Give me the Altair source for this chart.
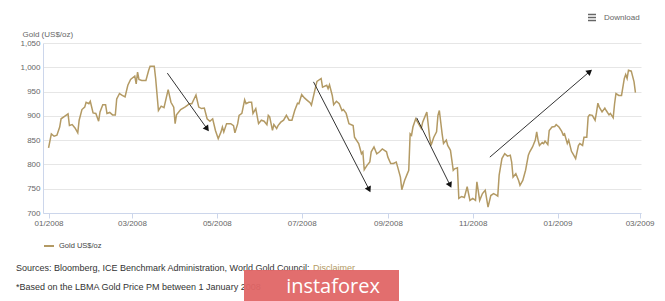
import altair as alt
import pandas as pd

# ---- data (days since 2008-01-01, US$/oz) ----
days = [0, 2, 4, 6, 8, 9, 12, 14, 15, 17, 19, 21, 22, 24, 26, 27, 29, 30, 32, 34,
        36, 37, 39, 41, 42, 44, 46, 48, 49, 51, 53, 55, 57, 59, 62, 63, 64, 65, 67, 70,
        72, 73, 76, 77, 79, 81, 83, 86, 88, 90, 91, 92, 95, 98, 100, 101, 103, 106, 108, 110,
        112, 114, 116, 118, 120, 122, 124, 125, 126, 128, 131, 133, 134, 136, 137, 139, 141, 142, 144, 146,
        147, 149, 151, 153, 155, 157, 158, 159, 161, 162, 164, 165, 167, 169, 171, 173, 175, 177, 179, 180,
        182, 184, 186, 188, 189, 192, 193, 196, 197, 200, 201, 202, 204, 205, 207, 209, 211, 212, 214, 216,
        219, 220, 223, 225, 226, 227, 229, 231, 232, 234, 236, 238, 240, 243, 244, 246, 248, 250, 251, 253,
        254, 256, 258, 259, 260, 261, 262, 264, 266, 268, 269, 271, 272, 274, 275, 277, 279, 280, 281, 283,
        284, 286, 287, 289, 291, 292, 294, 295, 297, 299, 301, 303, 305, 307, 308, 310, 312, 314, 316, 318,
        320, 322, 323, 324, 326, 328, 330, 332, 333, 334, 336, 338, 339, 341, 343, 345, 346, 348, 350, 351,
        352, 353, 355, 356, 357, 359, 360, 362, 364, 365, 367, 369, 370, 371, 373, 374, 376, 377, 379, 381,
        382, 384, 385, 387, 388, 389, 391, 393, 394, 395, 396, 398, 400, 401, 403, 404, 406, 407, 408, 410,
        412, 414, 415, 416, 417, 419, 421, 422]
price = [834, 863, 858, 860, 877, 894, 900, 904, 880, 882, 875, 865, 891, 913, 918, 928, 925, 930, 906, 905,
         889, 908, 923, 923, 905, 907, 902, 902, 935, 946, 942, 939, 963, 975, 982, 966, 990, 975, 973, 973,
         994, 1002, 1002, 977, 911, 920, 917, 954, 928, 918, 884, 902, 913, 918, 922, 925, 925, 943, 918, 915,
         916, 894, 889, 894, 870, 853, 867, 877, 867, 884, 884, 880, 865, 884, 901, 905, 933, 925, 928, 928,
         905, 915, 884, 891, 889, 882, 901, 898, 870, 882, 874, 880, 887, 891, 901, 891, 891, 911, 926, 925,
         944, 937, 932, 927, 922, 959, 971, 977, 959, 963, 956, 964, 942, 923, 930, 925, 911, 913, 905, 884,
         880, 856, 843, 822, 826, 789, 798, 805, 826, 836, 822, 826, 832, 826, 815, 802, 802, 805, 795, 774,
         748, 767, 781, 788, 863, 860, 877, 894, 884, 874, 887, 901, 908, 856, 839, 856, 867, 901, 911, 863,
         843, 850, 839, 829, 788, 791, 793, 730, 734, 732, 754, 726, 730, 726, 764, 726, 740, 747, 712, 736,
         740, 737, 735, 778, 812, 822, 817, 819, 805, 774, 781, 767, 757, 767, 788, 819, 826, 836, 850, 867,
         850, 839, 845, 843, 848, 841, 870, 877, 878, 882, 877, 868, 861, 863, 843, 850, 827, 822, 812, 839,
         843, 839, 856, 856, 898, 902, 901, 891, 907, 926, 918, 908, 916, 911, 902, 905, 896, 925, 946, 942,
         942, 977, 985, 977, 994, 992, 970, 948]
series_name = "Gold US$/oz"

x_tick_months = [(2008, 1), (2008, 3), (2008, 5), (2008, 7), (2008, 9), (2008, 11), (2009, 1), (2009, 3)]
y_ticks = [700, 750, 800, 850, 900, 950, 1000, 1050]

# annotation arrows (days since 2008-01-01, US$/oz)
arrow_start_day = [85.4, 190.5, 264.7, 317.3]
arrow_start_val = [988, 970, 896, 815]
arrow_end_day = [113.6, 230.2, 288.4, 388.6]
arrow_end_val = [875, 750, 759, 990]
arrow_angle = [144, 153, 154, 50]

base_date = pd.Timestamp("2008-01-01")
df = pd.DataFrame({
    "date": base_date + pd.to_timedelta(days, unit="D"),
    "price": price,
    "series": series_name,
})
arrows = pd.DataFrame({
    "x": base_date + pd.to_timedelta(arrow_start_day, unit="D"),
    "y": arrow_start_val,
    "x2": base_date + pd.to_timedelta(arrow_end_day, unit="D"),
    "y2": arrow_end_val,
    "angle": arrow_angle,
})

FONT = "Liberation Sans"
LINE = "#b39a64"
AXIS_LINE = "#ccd6eb"

x_scale = alt.Scale(domain=[alt.DateTime(year=2007, month=12, date=28),
                            alt.DateTime(year=2009, month=3, date=2)])
y_scale = alt.Scale(domain=[700, 1050], nice=False, zero=False)

x_axis = alt.Axis(values=[alt.DateTime(year=y, month=m, date=1) for y, m in x_tick_months],
                  format="%m/%Y", labelFont=FONT, labelFontSize=8, labelColor="#666666",
                  domainColor=AXIS_LINE, tickColor=AXIS_LINE, tickSize=5, labelPadding=1,
                  labelOverlap=False, grid=False)
y_axis = alt.Axis(values=y_ticks, format=",.0f", labelFont=FONT, labelFontSize=8,
                  labelColor="#666666", ticks=False, labelPadding=3, labelOverlap=False,
                  domainColor=AXIS_LINE, gridColor="#e6e6e6", grid=True,
                  title="Gold (US$/oz)", titleAngle=0, titleAlign="left",
                  titleBaseline="middle", titleX=-21, titleY=-9, titleFont=FONT,
                  titleFontSize=8, titleColor="#666666", titleFontWeight="normal")

line = alt.Chart(df).mark_line(strokeWidth=1.5).encode(
    x=alt.X("date:T", scale=x_scale, axis=x_axis, title=None),
    y=alt.Y("price:Q", scale=y_scale, axis=y_axis),
    color=alt.Color("series:N", scale=alt.Scale(range=[LINE]),
                    legend=alt.Legend(title=None, orient="none", legendX=0, legendY=197,
                                      symbolType="stroke", symbolStrokeWidth=2, symbolSize=100,
                                      labelFont=FONT, labelFontSize=7.5, labelColor="#444444")),
)

arrow_lines = alt.Chart(arrows).mark_rule(color="#333333", strokeWidth=1).encode(
    x=alt.X("x:T", scale=x_scale, axis=x_axis, title=None),
    y=alt.Y("y:Q", scale=y_scale, axis=y_axis),
    x2="x2:T", y2="y2:Q")
arrow_heads = alt.Chart(arrows).mark_point(shape="triangle", filled=True, size=45,
                                           color="#111111", opacity=1).encode(
    x=alt.X("x2:T", scale=x_scale, axis=x_axis, title=None),
    y=alt.Y("y2:Q", scale=y_scale, axis=y_axis),
    angle=alt.Angle("angle:Q", scale=None))

note_df = pd.DataFrame({"t": [0]})
src1 = alt.Chart(note_df).mark_text(align="left", baseline="middle", font=FONT, fontSize=9,
                                    color="#333333",
                                    text="Sources: Bloomberg, ICE Benchmark Administration, World Gold Council;").encode(
    x=alt.value(-27), y=alt.value(225))
disc = alt.Chart(note_df).mark_text(align="left", baseline="middle", font=FONT, fontSize=9,
                                    color="#b39a64", text="Disclaimer").encode(
    x=alt.value(270), y=alt.value(225))
src2 = alt.Chart(note_df).mark_text(align="left", baseline="middle", font=FONT, fontSize=9,
                                    color="#333333",
                                    text="*Based on the LBMA Gold Price PM between 1 January 2008").encode(
    x=alt.value(-27), y=alt.value(244))
wm_box = alt.Chart(note_df).mark_rect(color="#e06666", opacity=0.95).encode(
    x=alt.value(201), x2=alt.value(356), y=alt.value(227), y2=alt.value(260))
wm_text = alt.Chart(note_df).mark_text(align="center", baseline="middle", font="Open Sans",
                                       fontSize=20, color="#ffffff", text="instaforex").encode(
    x=alt.value(290), y=alt.value(244))
dl_text = alt.Chart(note_df).mark_text(align="left", baseline="middle", font=FONT, fontSize=8,
                                       color="#666666", text="Download").encode(
    x=alt.value(561), y=alt.value(-25))
bars = [alt.Chart(note_df).mark_rule(color="#666666", strokeWidth=1.5).encode(
    x=alt.value(545), x2=alt.value(553), y=alt.value(yy)) for yy in (-28.5, -25.5, -22.5)]

chart = alt.layer(line, arrow_lines, arrow_heads, src1, disc, src2, wm_box, wm_text, dl_text, *bars).properties(
    width=598, height=170,
    padding={"left": 43, "top": 43, "right": 24, "bottom": 88},
    autosize=alt.AutoSizeParams(type="none"),
    background="#ffffff",
).configure_view(stroke=None)

chart.save("out.html", embed_options={"renderer": "svg", "actions": False})
